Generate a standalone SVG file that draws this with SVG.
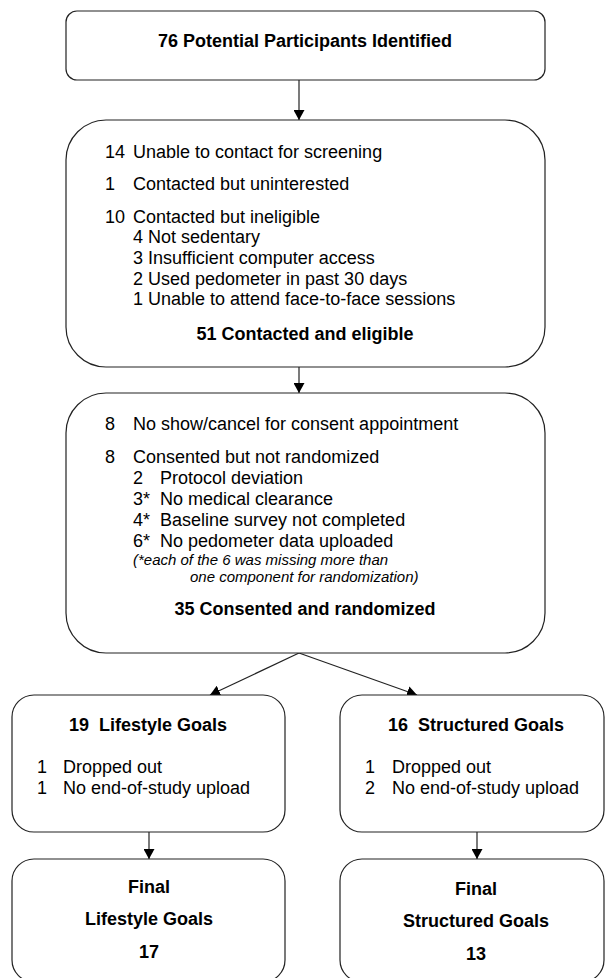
<svg xmlns="http://www.w3.org/2000/svg" width="606" height="978" viewBox="0 0 606 978">
<defs>
<style>
.box{fill:#fff;stroke:#222;stroke-width:1.2}
.t{font-family:"Liberation Sans",Arial,sans-serif;font-size:18px;fill:#000}
.b{font-family:"Liberation Sans",Arial,sans-serif;font-size:18px;font-weight:bold;fill:#000;text-anchor:middle}
.i{font-family:"Liberation Sans",Arial,sans-serif;font-size:15px;font-style:italic;fill:#000}
.c{stroke:#222;stroke-width:1.2;fill:none;marker-end:url(#ah)}
</style>
<marker id="ah" viewBox="0 0 10 11" refX="10" refY="5.5" markerWidth="10" markerHeight="11" markerUnits="userSpaceOnUse" orient="auto">
<path d="M0,0 L10,5.5 L0,11 Z" fill="#000"/>
</marker>
</defs>
<rect width="606" height="978" fill="#fff"/>
<g id="connectors">
<line class="c" x1="299" y1="80" x2="299" y2="120"/>
<line class="c" x1="299" y1="367" x2="299" y2="393"/>
<line class="c" x1="299" y1="653" x2="210" y2="695"/>
<line class="c" x1="299" y1="653" x2="417" y2="695"/>
<line class="c" x1="149" y1="832" x2="149" y2="859"/>
<line class="c" x1="477" y1="832" x2="477" y2="859"/>
</g>
<g id="identified">
<rect class="box" x="66" y="11" width="479" height="69" rx="11"/>
<text class="b" x="305" y="47">76 Potential Participants Identified</text>
</g>
<g id="screening">
<rect class="box" x="66" y="120" width="479" height="247" rx="40"/>
<text class="t" x="105" y="158">14</text><text class="t" x="133" y="158">Unable to contact for screening</text>
<text class="t" x="105" y="190">1</text><text class="t" x="133" y="190">Contacted but uninterested</text>
<text class="t" x="105" y="223">10</text><text class="t" x="133" y="223">Contacted but ineligible</text>
<text class="t" x="133" y="243">4 Not sedentary</text>
<text class="t" x="133" y="264">3 Insufficient computer access</text>
<text class="t" x="133" y="285">2 Used pedometer in past 30 days</text>
<text class="t" x="133" y="305">1 Unable to attend face-to-face sessions</text>
<text class="b" x="305" y="340">51 Contacted and eligible</text>
</g>
<g id="consent">
<rect class="box" x="66" y="393" width="479" height="260" rx="40"/>
<text class="t" x="105" y="430">8</text><text class="t" x="133" y="430">No show/cancel for consent appointment</text>
<text class="t" x="105" y="463">8</text><text class="t" x="133" y="463">Consented but not randomized</text>
<text class="t" x="133" y="484">2</text><text class="t" x="160" y="484">Protocol deviation</text>
<text class="t" x="133" y="505">3*</text><text class="t" x="160" y="505">No medical clearance</text>
<text class="t" x="133" y="526">4*</text><text class="t" x="160" y="526">Baseline survey not completed</text>
<text class="t" x="133" y="547">6*</text><text class="t" x="160" y="547">No pedometer data uploaded</text>
<text class="i" x="133" y="565">(*each of the 6 was missing more than</text>
<text class="i" x="190" y="582">one component for randomization)</text>
<text class="b" x="305" y="615">35 Consented and randomized</text>
</g>
<g id="lifestyle">
<rect class="box" x="12" y="695" width="273" height="137" rx="22"/>
<text class="b" x="148" y="731" xml:space="preserve">19  Lifestyle Goals</text>
<text class="t" x="37" y="773">1</text><text class="t" x="63" y="773">Dropped out</text>
<text class="t" x="37" y="794">1</text><text class="t" x="63" y="794">No end-of-study upload</text>
</g>
<g id="structured">
<rect class="box" x="340" y="695" width="264" height="137" rx="22"/>
<text class="b" x="476" y="731" xml:space="preserve">16  Structured Goals</text>
<text class="t" x="365" y="773">1</text><text class="t" x="392" y="773">Dropped out</text>
<text class="t" x="365" y="794">2</text><text class="t" x="392" y="794">No end-of-study upload</text>
</g>
<g id="final-lifestyle">
<rect class="box" x="12" y="859" width="273" height="123" rx="22"/>
<text class="b" x="149" y="893">Final</text>
<text class="b" x="149" y="925">Lifestyle Goals</text>
<text class="b" x="149" y="958">17</text>
</g>
<g id="final-structured">
<rect class="box" x="340" y="859" width="264" height="123" rx="22"/>
<text class="b" x="476" y="895">Final</text>
<text class="b" x="476" y="927">Structured Goals</text>
<text class="b" x="476" y="960">13</text>
</g>
</svg>
